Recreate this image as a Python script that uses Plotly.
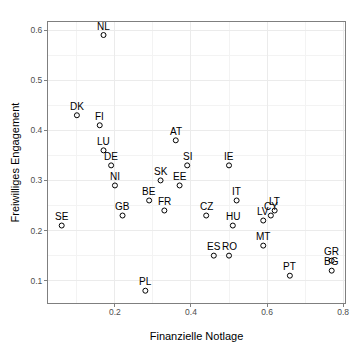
import plotly.graph_objects as go

countries = ["NL", "DK", "FI", "LU", "DE", "AT", "SI", "IE", "NI", "SK", "EE", "BE", "FR", "GB", "SE",
             "PL", "IT", "CZ", "HU", "LT", "CY", "LV", "MT", "ES", "RO", "PT", "GR", "BG"]
notlage = [0.17, 0.10, 0.16, 0.17, 0.19, 0.36, 0.39, 0.50, 0.20, 0.32, 0.37, 0.29, 0.33, 0.22, 0.06,
           0.28, 0.52, 0.44, 0.51, 0.62, 0.61, 0.59, 0.59, 0.46, 0.50, 0.66, 0.77, 0.77]
engagement = [0.59, 0.43, 0.41, 0.36, 0.33, 0.38, 0.33, 0.33, 0.29, 0.30, 0.29, 0.26, 0.24, 0.23, 0.21,
              0.08, 0.26, 0.23, 0.21, 0.24, 0.23, 0.22, 0.17, 0.15, 0.15, 0.11, 0.14, 0.12]

FONT = "Liberation Sans, Arial, sans-serif"

fig = go.Figure()
fig.add_trace(go.Scatter(
    x=notlage, y=engagement, mode="markers",
    marker=dict(symbol="circle-open", size=5, color="black", line=dict(width=1, color="black")),
    hoverinfo="skip", showlegend=False,
))
for c, xv, yv in zip(countries, notlage, engagement):
    fig.add_annotation(x=xv, y=yv, text=c, showarrow=False, yshift=9,
                       font=dict(family=FONT, size=10, color="black"))

axis_common = dict(
    showline=True, linecolor="#7f7f7f", linewidth=1, mirror=True,
    showgrid=True, gridcolor="#ebebeb", gridwidth=1,
    ticks="outside", ticklen=3, tickcolor="#7f7f7f", tickwidth=1,
    tickfont=dict(family=FONT, size=8.5, color="#4d4d4d"),
    zeroline=False,
)
fig.update_xaxes(**axis_common, range=[0.024, 0.805], tickvals=[0.2, 0.4, 0.6, 0.8],
                 ticktext=["0.2", "0.4", "0.6", "0.8"], ticklabelstandoff=-2,
                 minor=dict(tickvals=[0.1, 0.3, 0.5, 0.7], showgrid=True, gridcolor="#f3f3f3", gridwidth=1, ticks=""),
                 title=dict(text="Finanzielle Notlage", font=dict(family=FONT, size=11, color="black"), standoff=16))
fig.update_yaxes(**axis_common, range=[0.0555, 0.616], tickvals=[0.1, 0.2, 0.3, 0.4, 0.5, 0.6],
                 ticktext=["0.1", "0.2", "0.3", "0.4", "0.5", "0.6"],
                 minor=dict(tickvals=[0.15, 0.25, 0.35, 0.45, 0.55], showgrid=True, gridcolor="#f3f3f3", gridwidth=1, ticks=""),
                 title=dict(text="Freiwilliges Engagement", font=dict(family=FONT, size=11, color="black"), standoff=8))
fig.update_layout(
    width=355, height=348,
    margin=dict(l=48, r=6, t=22, b=45),
    paper_bgcolor="white", plot_bgcolor="white",
    font=dict(family=FONT),
)
fig.write_html("out.html")
